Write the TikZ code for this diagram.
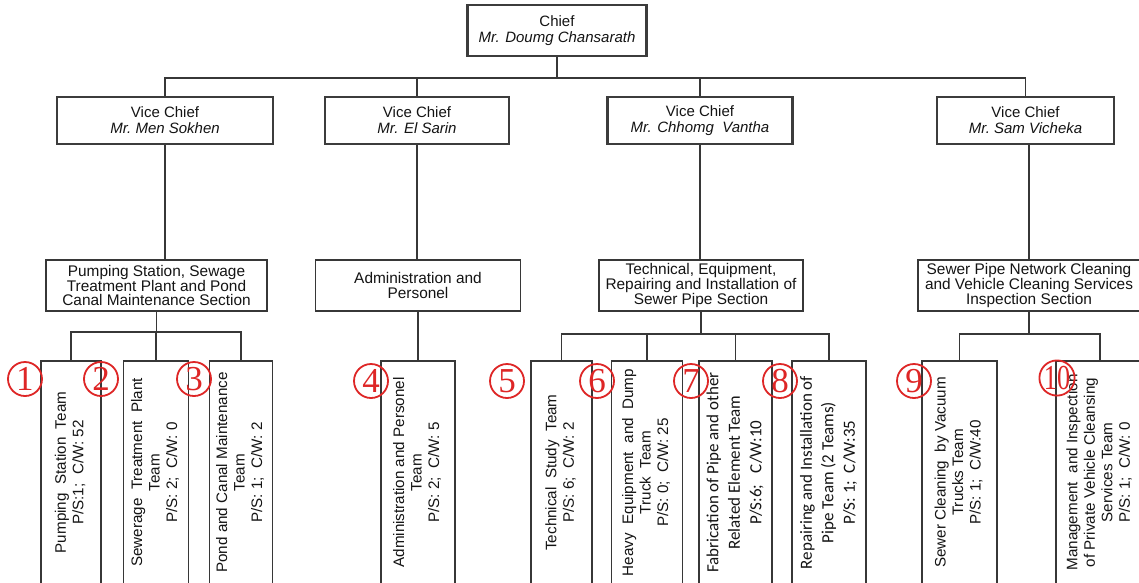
\documentclass[tikz,border=0pt]{standalone}
\usepackage{fontspec}
\usepackage{graphicx}
\setmainfont{Liberation Sans}
\newfontfamily\calibfont{Carlito}
\newfontfamily\numfont{Liberation Serif}
\definecolor{ln}{RGB}{55,55,55}
\definecolor{boxc}{RGB}{60,60,60}
\definecolor{txt}{RGB}{20,20,20}
\definecolor{cred}{RGB}{222,38,38}
\newcommand{\vt}[1]{\rotatebox{90}{\begin{tabular}{@{}c@{}}#1\end{tabular}}}
\tikzset{
  topbox/.style={draw=boxc, line width=2.4pt, fill=white, inner sep=0pt, align=center,
    font=\fontsize{15}{16}\selectfont, text=txt},
  secbox/.style={draw=ln, line width=1.2pt, inner sep=0pt, align=center,
    font=\fontsize{15.4}{14.6}\selectfont, text=txt, minimum height=51pt},
  teambox/.style={draw=ln, line width=1.3pt, inner sep=0pt, text=txt, minimum height=223pt,
    font=\fontsize{15.2}{17.5}\selectfont},
  calteam/.style={teambox, font=\calibfont\fontsize{17}{21.5}\selectfont},
  conn/.style={draw=ln, line width=1.3pt},
  num/.style={circle, draw=cred, line width=1.8pt, minimum size=34pt, inner sep=0pt,
    text=cred, font=\numfont\fontsize{35}{35}\selectfont},
}
\begin{document}
\begin{tikzpicture}[x=1pt,y=-1pt]
\clip (0,0) rectangle (1139,582);
\fill[white] (0,0) rectangle (1139,582);
% top level
\node[topbox, minimum width=179pt, minimum height=51pt] (chief) at (557,30.5) {Chief\\\textit{Mr. Doumg\ Chansarath}};
\node[topbox, minimum width=216pt, minimum height=47pt] (vc1) at (165,120.5) {Vice Chief\\\textit{Mr.\ Men\ Sokhen}};
\node[topbox, minimum width=184pt, minimum height=47pt] (vc2) at (417,120.5) {Vice Chief\\\textit{Mr. El Sarin}};
\node[topbox, minimum width=185pt, minimum height=47pt] (vc3) at (700,120.5) {Vice Chief\\\textit{Mr. Chhomg\ \ Vantha}};
\node[topbox, minimum width=177pt, minimum height=47pt] (vc4) at (1025.5,120.5) {Vice Chief\\\textit{Mr.\ Sam Vicheka}};
% sections
\node[secbox, minimum width=221pt] (s1) at (156.5,285.5) {Pumping Station, Sewage\\Treatment\ Plant and Pond\\Canal\ Maintenance Section};
\node[secbox, minimum width=205pt] (s2) at (418,285.5) {Administration and\\Personel};
\node[secbox, minimum width=204pt] (s3) at (701,285.5) {Technical, Equipment,\\Repairing\ and Installation of\\Sewer Pipe Section};
\node[secbox, minimum width=222pt] (s4) at (1029,285.5) {Sewer Pipe Network Cleaning\\and Vehicle Cleaning\ Services\\Inspection Section};
% teams
\node[teambox, minimum width=60pt] (t1) at (71,472.5) {\vt{Pumping\ \ Station\ \ Team\\P/S:1;\ \ C/W: 52}};
\node[teambox, minimum width=65pt] (t2) at (156,472.5) {\vt{Sewerage\ \ Treatment\ \ Plant\\Team\\P/S: 2;\ \ C/W: 0}};
\node[teambox, minimum width=63pt] (t3) at (241,472.5) {\vt{Pond and Canal Maintenance\\Team\\P/S: 1;\ \ C/W: 2}};
\node[teambox, minimum width=74pt] (t4) at (418,472.5) {\vt{Administration and Personel\\Team\\P/S: 2;\ \ C/W: 5}};
\node[teambox, minimum width=61pt] (t5) at (561.5,472.5) {\vt{Technical\ \ Study\ \ Team\\P/S: 6;\ \ C/W: 2}};
\node[teambox, minimum width=71pt] (t6) at (647,472.5) {\vt{Heavy\ \ Equipment\ \ and\ \ Dump\\Truck\ \ Team\\P/S: 0;\ \ C/W: 25}};
\node[calteam, minimum width=73pt] (t7) at (735.5,472.5) {\vt{Fabrication of Pipe and other\\Related Element Team\\P/S:6;\ \ \ C/W:10}};
\node[calteam, minimum width=74pt] (t8) at (829,472.5) {\vt{Repairing and Installation of\\Pipe Team (2 Teams)\\P/S: 1;\ \ C/W:35}};
\node[teambox, minimum width=75pt] (t9) at (959.5,472.5) {\vt{Sewer Cleaning\ \ by Vacuum\\Trucks Team\\P/S: 1;\ \ C/W:40}};
\node[teambox, minimum width=88pt] (t10) at (1100,472.5) {\vt{Management\ \ and Inspection\\of Private Vehicle Cleansing\\Services Team\\P/S: 1;\ \ C/W: 0}};
% connectors
\coordinate (top) at (0,78);
\draw[conn] (chief.south) -- (chief.south |- top);
\draw[conn] (vc1.north) -- (vc1.north |- top) -- (vc4.north |- top) -- (vc4.north);
\draw[conn] (vc2.north) -- (vc2.north |- top);
\draw[conn] (vc3.north) -- (vc3.north |- top);
\draw[conn] (vc1.south) -- (vc1.south |- s1.north);
\draw[conn] (vc2.south) -- (vc2.south |- s2.north);
\draw[conn] (vc3.south) -- (vc3.south |- s3.north);
\draw[conn] (s4.north) -- (s4.north |- vc4.south);
\coordinate (b1) at (0,332);
\coordinate (b3) at (0,334);
\draw[conn] (s1.south) -- (s1.south |- b1);
\draw[conn] (t1.north) -- (t1.north |- b1) -- (t3.north |- b1) -- (t3.north);
\draw[conn] (t2.north) -- (t2.north |- b1);
\draw[conn] (s2.south) -- (t4.north);
\draw[conn] (s3.south) -- (s3.south |- b3);
\draw[conn] (t5.north) -- (t5.north |- b3) -- (t8.north |- b3) -- (t8.north);
\draw[conn] (t6.north) -- (t6.north |- b3);
\draw[conn] (t7.north) -- (t7.north |- b3);
\draw[conn] (s4.south) -- (s4.south |- b3);
\draw[conn] (t9.north) -- (t9.north |- b3) -- (t10.north |- b3) -- (t10.north);
% circled numbers
\node[num] (c1) at (25,379) {1};
\node[num] (c2) at (101,379) {2};
\node[num] (c3) at (194,379) {3};
\node[num] (c4) at (371,381) {4};
\node[num] (c5) at (507,381) {5};
\node[num] (c6) at (597,381) {6};
\node[num] (c7) at (691,381) {7};
\node[num] (c8) at (780,381) {8};
\node[num] (c9) at (914,381) {9};
\node[num] (c10) at (1057,378) {\scalebox{0.75}[1]{10}};
\end{tikzpicture}
\end{document}
